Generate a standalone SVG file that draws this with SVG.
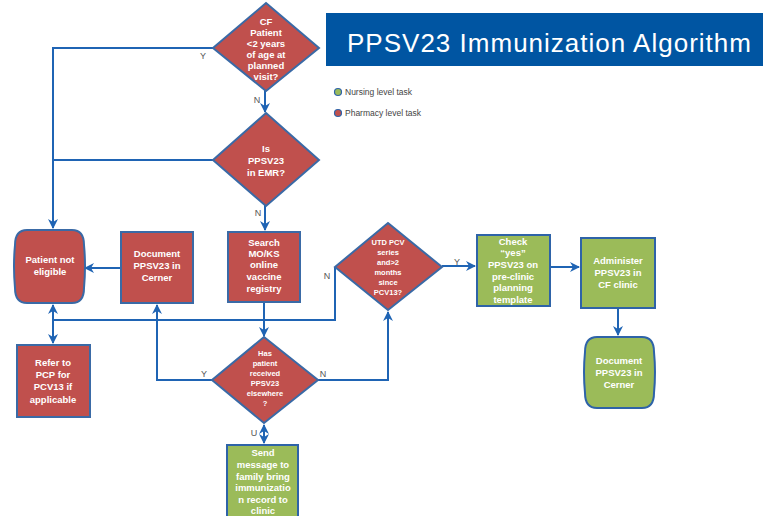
<svg xmlns="http://www.w3.org/2000/svg" width="763" height="516" viewBox="0 0 763 516">
<style>
.red{fill:#c0504d;stroke:#3a6aa6;stroke-width:2}
.grn{fill:#9bbb59;stroke:#2e63a8;stroke-width:2}
.t{font-family:"Liberation Sans",Arial,sans-serif;font-size:9.5px;font-weight:bold;fill:#ffffff;text-anchor:middle}
.s{font-size:7.5px}
.lbl{font-family:"Liberation Sans",Arial,sans-serif;font-size:9px;fill:#555555;text-anchor:middle}
.ln{fill:none;stroke:#1f64b4;stroke-width:2}
.leg{font-family:"Liberation Sans",Arial,sans-serif;font-size:8.5px;fill:#444444}
</style>
<defs>
<marker id="ah" viewBox="0 0 10 10" refX="9" refY="5" markerWidth="5" markerHeight="5" orient="auto-start-reverse" markerUnits="strokeWidth">
<path d="M0,0 L10,5 L0,10 L3,5 Z" fill="#1f64b4"/>
</marker>
</defs>
<rect width="763" height="516" fill="#ffffff"/>

<g id="title">
<rect x="326" y="13" width="437" height="53" fill="#0055a2"/>
<text x="347" y="52" font-family="Liberation Sans,Arial,sans-serif" font-size="26" fill="#ffffff" textLength="404" lengthAdjust="spacing">PPSV23 Immunization Algorithm</text>
</g>

<g id="legend">
<circle cx="338" cy="92" r="3.5" fill="#9bbb59" stroke="#2e63a8" stroke-width="1.2"/>
<text class="leg" x="345" y="95">Nursing level task</text>
<circle cx="338" cy="113" r="3.5" fill="#c0504d" stroke="#2e63a8" stroke-width="1.2"/>
<text class="leg" x="345" y="116">Pharmacy level task</text>
</g>

<g id="connectors">
<polyline class="ln" points="213,48 53,48 53,228" marker-end="url(#ah)"/>
<polyline class="ln" points="213,160 53,160"/>
<line class="ln" x1="265" y1="90" x2="265" y2="112" marker-end="url(#ah)"/>
<line class="ln" x1="265" y1="205" x2="265" y2="230" marker-end="url(#ah)"/>
<line class="ln" x1="120" y1="268" x2="85" y2="268" marker-end="url(#ah)"/>
<polyline class="ln" points="335,267 335,320 53,320"/>
<line class="ln" x1="53" y1="320" x2="53" y2="305" marker-end="url(#ah)"/>
<line class="ln" x1="53" y1="320" x2="53" y2="343" marker-end="url(#ah)"/>
<line class="ln" x1="264" y1="302" x2="264" y2="336" marker-end="url(#ah)"/>
<polyline class="ln" points="212,380 157,380 157,305" marker-end="url(#ah)"/>
<polyline class="ln" points="318,380 388,380 388,312" marker-end="url(#ah)"/>
<line class="ln" x1="264" y1="425" x2="264" y2="443" marker-start="url(#ah)" marker-end="url(#ah)"/>
<line class="ln" x1="442" y1="266" x2="475" y2="266" marker-end="url(#ah)"/>
<line class="ln" x1="550" y1="267" x2="579" y2="267" marker-end="url(#ah)"/>
<line class="ln" x1="618" y1="308" x2="618" y2="335" marker-end="url(#ah)"/>
<text class="lbl" x="203" y="59">Y</text>
<text class="lbl" x="257" y="103">N</text>
<text class="lbl" x="258" y="216">N</text>
<text class="lbl" x="327" y="279">N</text>
<text class="lbl" x="457" y="265">Y</text>
<text class="lbl" x="204" y="377">Y</text>
<text class="lbl" x="323" y="377">N</text>
<text class="lbl" x="254" y="436">U</text>
</g>

<g id="cf-patient">
<polygon class="red" points="266,3 319,48 266,91 213,48"/>
<text class="t" x="266" y="25">CF</text>
<text class="t" x="266" y="36">Patient</text>
<text class="t" x="266" y="47">&lt;2 years</text>
<text class="t" x="266" y="58">of age at</text>
<text class="t" x="266" y="69">planned</text>
<text class="t" x="266" y="80">visit?</text>
</g>

<g id="ppsv23-emr">
<polygon class="red" points="266,113 319,160 266,206 213,160"/>
<text class="t" x="266" y="152">Is</text>
<text class="t" x="266" y="164">PPSV23</text>
<text class="t" x="266" y="176">in EMR?</text>
</g>

<g id="not-eligible">
<path class="red" d="M27,230 H72 Q84,230 84,245 Q86,266 84,288 Q84,303 72,303 H27 Q15,303 15,288 Q13,266 15,245 Q15,230 27,230 Z"/>
<text class="t" x="50" y="263">Patient not</text>
<text class="t" x="50" y="275">eligible</text>
</g>

<g id="document-red">
<rect class="red" x="121" y="232" width="72" height="71"/>
<text class="t" x="157" y="257">Document</text>
<text class="t" x="157" y="269">PPSV23  in</text>
<text class="t" x="157" y="281">Cerner</text>
</g>

<g id="search">
<rect class="red" x="228" y="232" width="72" height="70"/>
<text class="t" x="264" y="246">Search</text>
<text class="t" x="264" y="257">MO/KS</text>
<text class="t" x="264" y="268">online</text>
<text class="t" x="264" y="280">vaccine</text>
<text class="t" x="264" y="292">registry</text>
</g>

<g id="utd-pcv">
<polygon class="red" points="388,223 442,267 388,310 335,267"/>
<text class="t s" x="388" y="245">UTD PCV</text>
<text class="t s" x="388" y="255">series</text>
<text class="t s" x="388" y="265">and&gt;2</text>
<text class="t s" x="388" y="275">months</text>
<text class="t s" x="388" y="285">since</text>
<text class="t s" x="388" y="295">PCV13?</text>
</g>

<g id="refer">
<rect class="red" x="17" y="345" width="73" height="72"/>
<text class="t" x="53" y="366">Refer to</text>
<text class="t" x="53" y="378">PCP  for</text>
<text class="t" x="53" y="390">PCV13 if</text>
<text class="t" x="53" y="403">applicable</text>
</g>

<g id="received">
<polygon class="red" points="264,337 318,380 264,423 212,380"/>
<text class="t s" x="265" y="356">Has</text>
<text class="t s" x="265" y="366">patient</text>
<text class="t s" x="265" y="376">received</text>
<text class="t s" x="265" y="386">PPSV23</text>
<text class="t s" x="265" y="396">elsewhere</text>
<text class="t s" x="265" y="406">?</text>
</g>

<g id="send-message">
<rect class="grn" x="227" y="445" width="71" height="80"/>
<text class="t" x="263" y="456">Send</text>
<text class="t" x="263" y="468">message to</text>
<text class="t" x="263" y="480">family bring</text>
<text class="t" x="263" y="491">immunizatio</text>
<text class="t" x="263" y="503">n record to</text>
<text class="t" x="263" y="514">clinic</text>
</g>

<g id="check-yes">
<rect class="grn" x="477" y="235" width="73" height="71"/>
<text class="t" x="513" y="245">Check</text>
<text class="t" x="513" y="256">“yes”</text>
<text class="t" x="513" y="268">PPSV23 on</text>
<text class="t" x="513" y="280">pre-clinic</text>
<text class="t" x="513" y="291">planning</text>
<text class="t" x="513" y="303">template</text>
</g>

<g id="administer">
<rect class="grn" x="581" y="238" width="74" height="70"/>
<text class="t" x="618" y="264">Administer</text>
<text class="t" x="618" y="276">PPSV23 in</text>
<text class="t" x="618" y="288">CF clinic</text>
</g>

<g id="document-green">
<path class="grn" d="M597,337 H642 Q654,337 654,352 Q656,372 654,393 Q654,408 642,408 H597 Q585,408 585,393 Q583,372 585,352 Q585,337 597,337 Z"/>
<text class="t" x="619" y="364">Document</text>
<text class="t" x="619" y="376">PPSV23 in</text>
<text class="t" x="619" y="388">Cerner</text>
</g>
</svg>
